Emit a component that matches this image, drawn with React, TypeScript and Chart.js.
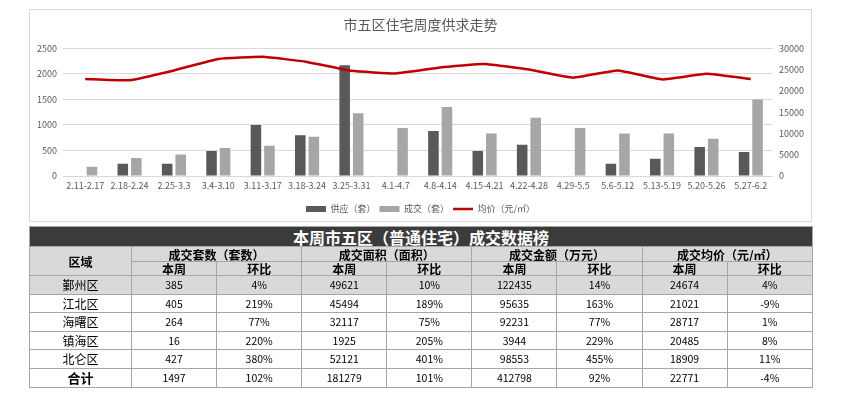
import { useEffect, useRef } from 'react';
import { Chart, registerables } from 'chart.js';

Chart.register(...registerables);

const FONT = "'Noto Sans CJK SC', 'Noto Sans', sans-serif";

const chartTitle = '市五区住宅周度供求走势';
const categories = [
  '2.11-2.17', '2.18-2.24', '2.25-3.3', '3.4-3.10', '3.11-3.17', '3.18-3.24', '3.25-3.31', '4.1-4.7',
  '4.8-4.14', '4.15-4.21', '4.22-4.28', '4.29-5.5', '5.6-5.12', '5.13-5.19', '5.20-5.26', '5.27-6.2',
];
const supplyUnits = [null, 240, 240, 490, 1000, 800, 2170, null, 880, 490, 610, null, 240, 340, 570, 470];
const dealUnits = [180, 350, 420, 550, 590, 770, 1230, 940, 1350, 830, 1140, 940, 830, 830, 730, 1497];
const avgPrice = [22800, 22500, 24800, 27500, 28000, 26800, 24700, 24100, 25500, 26300, 25000, 23100, 24800, 22700, 24000, 22771];
const seriesNames = ['供应（套）', '成交（套）', '均价（元/㎡）'];

const tableTitle = '本周市五区（普通住宅）成交数据榜';
const groupHeaders = ['成交套数（套数）', '成交面积（面积）', '成交金额（万元）', '成交均价（元/㎡）'];
const districts = ['鄞州区', '江北区', '海曙区', '镇海区', '北仑区', '合计'];
const dealCount = [385, 405, 264, 16, 427, 1497];
const dealCountChg = ['4%', '219%', '77%', '220%', '380%', '102%'];
const dealArea = [49621, 45494, 32117, 1925, 52121, 181279];
const dealAreaChg = ['10%', '189%', '75%', '205%', '401%', '101%'];
const dealAmount = [122435, 95635, 92231, 3944, 98553, 412798];
const dealAmountChg = ['14%', '163%', '77%', '229%', '455%', '92%'];
const dealPrice = [24674, 21021, 28717, 20485, 18909, 22771];
const dealPriceChg = ['4%', '-9%', '1%', '8%', '11%', '-4%'];

const TXT = '#595959';
const BORDER = '1px solid #a6a6a6';
const rowHeights = [19, 18, 19, 18, 19, 19];

export default function App() {
  const ref = useRef<HTMLCanvasElement>(null);

  useEffect(() => {
    const plain = (v: any) => String(v);
    const chart = new Chart(ref.current!, {
      type: 'bar',
      data: {
        labels: categories,
        datasets: [
          {
            type: 'bar',
            label: seriesNames[0],
            data: supplyUnits as any,
            backgroundColor: '#595959',
            yAxisID: 'y',
            order: 1,
            categoryPercentage: 0.61,
            barPercentage: 0.78,
          },
          {
            type: 'bar',
            label: seriesNames[1],
            data: dealUnits,
            backgroundColor: '#a6a6a6',
            yAxisID: 'y',
            order: 1,
            categoryPercentage: 0.61,
            barPercentage: 0.78,
          },
          {
            type: 'line',
            label: seriesNames[2],
            data: avgPrice,
            borderColor: '#c00000',
            backgroundColor: '#c00000',
            borderWidth: 2.5,
            pointRadius: 0,
            tension: 0.12,
            yAxisID: 'y1',
            order: 0,
          } as any,
        ],
      },
      options: {
        responsive: false,
        animation: false,
        layout: { padding: { left: 0, right: 0, top: 0, bottom: 2.5 } },
        plugins: {
          title: {
            display: true,
            text: chartTitle,
            color: TXT,
            font: { family: FONT, size: 14, weight: 'normal' },
            padding: { top: 6.6, bottom: 14.9 },
          },
          legend: {
            position: 'bottom',
            labels: {
              color: TXT,
              font: { family: FONT, size: 9 },
              usePointStyle: true,
              pointStyleWidth: 20,
              boxHeight: 6,
              padding: 4,
              sort: (a: any, b: any) => a.datasetIndex - b.datasetIndex,
              generateLabels: (c: any) => {
                const items = Chart.defaults.plugins.legend.labels.generateLabels(c);
                return items.map((it: any) => {
                  if (it.datasetIndex === 2) {
                    return { ...it, pointStyle: 'line', lineWidth: 2.5, strokeStyle: '#c00000' };
                  }
                  return { ...it, pointStyle: 'rect', lineWidth: 0 };
                });
              },
            },
          },
          tooltip: { enabled: false },
        },
        scales: {
          x: {
            grid: { display: false, drawTicks: false },
            border: { display: false },
            ticks: {
              color: TXT,
              font: { family: FONT, size: 9 },
              maxRotation: 0,
              minRotation: 0,
              autoSkip: false,
              padding: 4.6,
            },
            afterFit: (s: any) => { s.height = 24.5; },
          },
          y: {
            position: 'left',
            min: 0,
            max: 2500,
            grid: { color: '#d9d9d9', drawTicks: false },
            border: { display: false },
            ticks: { stepSize: 500, color: TXT, font: { family: FONT, size: 9 }, padding: 6, callback: plain },
            afterFit: (s: any) => { s.width = 33; },
          },
          y1: {
            position: 'right',
            min: 0,
            max: 30000,
            grid: { display: false, drawTicks: false },
            border: { display: false },
            ticks: { stepSize: 5000, color: TXT, font: { family: FONT, size: 9 }, padding: 6, callback: plain },
            afterFit: (s: any) => { s.width = 38; },
          },
        },
      },
    } as any);
    return () => chart.destroy();
  }, []);

  const cell: React.CSSProperties = {
    border: BORDER,
    padding: 0,
    textAlign: 'center',
    verticalAlign: 'middle',
    overflow: 'hidden',
    whiteSpace: 'nowrap',
  };
  const hdr: React.CSSProperties = { ...cell, background: '#d9d9d9', fontWeight: 'bold', fontSize: 12, lineHeight: '13px' };
  const num: React.CSSProperties = { ...cell, fontSize: 10.5, lineHeight: '12px' };

  return (
    <div style={{ position: 'fixed', left: 0, top: 0, width: 862, height: 399, background: '#fff', fontFamily: FONT }}>
      <div style={{ position: 'absolute', left: 30, top: 10, width: 781, height: 216 }}>
        <canvas ref={ref} width={781} height={216} />
      </div>
      <div
        style={{
          position: 'absolute', left: 29, top: 9, width: 781, height: 211,
          border: '1px solid #d9d9d9', pointerEvents: 'none',
        }}
      />
      <table
        style={{
          position: 'absolute', left: 29, top: 226, width: 783,
          borderCollapse: 'collapse', tableLayout: 'fixed', color: '#000',
        }}
      >
        <colgroup>
          <col style={{ width: 102 }} />
          {Array.from({ length: 8 }).map((_, i) => <col key={i} style={{ width: 85.1 }} />)}
        </colgroup>
        <tbody>
          <tr style={{ height: 20 }}>
            <td colSpan={9} style={{ ...cell, background: '#3b3b3b', color: '#fff', fontWeight: 'bold', fontSize: 16, lineHeight: '18px' }}>
              {tableTitle}
            </td>
          </tr>
          <tr style={{ height: 15 }}>
            <td rowSpan={2} style={{ ...hdr, fontSize: 12 }}>区域</td>
            {groupHeaders.map((g) => (
              <td key={g} colSpan={2} style={hdr}>{g}</td>
            ))}
          </tr>
          <tr style={{ height: 14 }}>
            {groupHeaders.map((g) => [
              <td key={g + 'a'} style={hdr}>本周</td>,
              <td key={g + 'b'} style={hdr}>环比</td>,
            ])}
          </tr>
          {districts.map((d, i) => {
            const bg = i === 0 ? '#d9d9d9' : '#fff';
            const isTotal = i === districts.length - 1;
            const vals = [
              dealCount[i], dealCountChg[i], dealArea[i], dealAreaChg[i],
              dealAmount[i], dealAmountChg[i], dealPrice[i], dealPriceChg[i],
            ];
            return (
              <tr key={d} style={{ height: rowHeights[i], background: bg }}>
                <td style={{ ...cell, fontSize: isTotal ? 13 : 12, fontWeight: isTotal ? 'bold' : 'normal', lineHeight: '14px' }}>{d}</td>
                {vals.map((v, j) => (
                  <td key={j} style={num}>{String(v)}</td>
                ))}
              </tr>
            );
          })}
        </tbody>
      </table>
    </div>
  );
}
